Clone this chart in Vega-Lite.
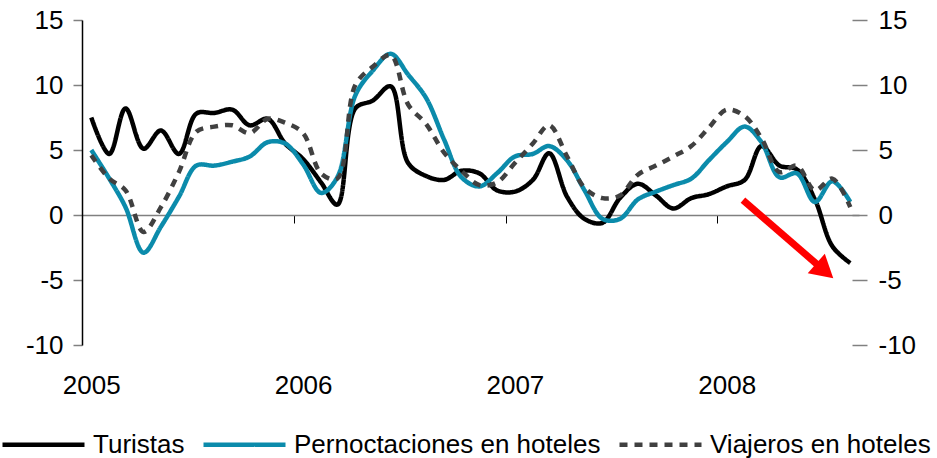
{
  "$schema": "https://vega.github.io/schema/vega-lite/v6.json",
  "width": 777,
  "height": 325,
  "autosize": {"type": "none"},
  "padding": {"left": 82, "top": 20, "right": 78, "bottom": 113},
  "background": "white",
  "config": {
    "view": {"stroke": null},
    "font": "Liberation Sans",
    "axis": {"labelFont": "Liberation Sans", "labelFontSize": 26, "labelColor": "#000000", "grid": false, "title": null}
  },
  "datasets": {
    "series": [
      {"date": "2005-01-01T00:00", "Turistas": 7.5, "Pernoctaciones en hoteles": 5.0, "Viajeros en hoteles": 4.6},
      {"date": "2005-02-01T00:00", "Turistas": 4.7, "Pernoctaciones en hoteles": 2.8, "Viajeros en hoteles": 2.8},
      {"date": "2005-03-01T00:00", "Turistas": 8.2, "Pernoctaciones en hoteles": 0.6, "Viajeros en hoteles": 1.9},
      {"date": "2005-04-01T00:00", "Turistas": 5.1, "Pernoctaciones en hoteles": -2.9, "Viajeros en hoteles": -1.3},
      {"date": "2005-05-01T00:00", "Turistas": 6.5, "Pernoctaciones en hoteles": -0.9, "Viajeros en hoteles": 0.6},
      {"date": "2005-06-01T00:00", "Turistas": 4.7, "Pernoctaciones en hoteles": 1.4, "Viajeros en hoteles": 3.3},
      {"date": "2005-07-01T00:00", "Turistas": 7.8, "Pernoctaciones en hoteles": 3.8, "Viajeros en hoteles": 6.4},
      {"date": "2005-08-01T00:00", "Turistas": 7.85, "Pernoctaciones en hoteles": 3.8, "Viajeros en hoteles": 6.8},
      {"date": "2005-09-01T00:00", "Turistas": 8.1, "Pernoctaciones en hoteles": 4.1, "Viajeros en hoteles": 6.9},
      {"date": "2005-10-01T00:00", "Turistas": 6.9, "Pernoctaciones en hoteles": 4.5, "Viajeros en hoteles": 6.3},
      {"date": "2005-11-01T00:00", "Turistas": 7.4, "Pernoctaciones en hoteles": 5.6, "Viajeros en hoteles": 7.4},
      {"date": "2005-12-01T00:00", "Turistas": 5.5, "Pernoctaciones en hoteles": 5.5, "Viajeros en hoteles": 7.1},
      {"date": "2006-01-01T00:00", "Turistas": 4.3, "Pernoctaciones en hoteles": 3.9, "Viajeros en hoteles": 6.3},
      {"date": "2006-02-01T00:00", "Turistas": 2.5, "Pernoctaciones en hoteles": 1.7, "Viajeros en hoteles": 3.2},
      {"date": "2006-03-01T00:00", "Turistas": 0.8, "Pernoctaciones en hoteles": 2.9, "Viajeros en hoteles": 2.8},
      {"date": "2006-04-01T00:00", "Turistas": 8.2, "Pernoctaciones en hoteles": 9.2, "Viajeros en hoteles": 10.0},
      {"date": "2006-05-01T00:00", "Turistas": 8.8, "Pernoctaciones en hoteles": 11.1, "Viajeros en hoteles": 11.4},
      {"date": "2006-06-01T00:00", "Turistas": 9.9, "Pernoctaciones en hoteles": 12.4, "Viajeros en hoteles": 12.3},
      {"date": "2006-07-01T00:00", "Turistas": 4.0, "Pernoctaciones en hoteles": 10.8, "Viajeros en hoteles": 8.5},
      {"date": "2006-08-01T00:00", "Turistas": 3.0, "Pernoctaciones en hoteles": 9.0, "Viajeros en hoteles": 7.0},
      {"date": "2006-09-01T00:00", "Turistas": 2.7, "Pernoctaciones en hoteles": 5.8, "Viajeros en hoteles": 4.8},
      {"date": "2006-10-01T00:00", "Turistas": 3.4, "Pernoctaciones en hoteles": 2.9, "Viajeros en hoteles": 3.4},
      {"date": "2006-11-01T00:00", "Turistas": 3.2, "Pernoctaciones en hoteles": 2.2, "Viajeros en hoteles": 2.3},
      {"date": "2006-12-01T00:00", "Turistas": 1.9, "Pernoctaciones en hoteles": 3.2, "Viajeros en hoteles": 2.5},
      {"date": "2007-01-01T00:00", "Turistas": 1.8, "Pernoctaciones en hoteles": 4.5, "Viajeros en hoteles": 4.0},
      {"date": "2007-02-01T00:00", "Turistas": 2.7, "Pernoctaciones en hoteles": 4.7, "Viajeros en hoteles": 5.5},
      {"date": "2007-03-01T00:00", "Turistas": 4.75, "Pernoctaciones en hoteles": 5.3, "Viajeros en hoteles": 6.9},
      {"date": "2007-04-01T00:00", "Turistas": 1.4, "Pernoctaciones en hoteles": 4.2, "Viajeros en hoteles": 4.5},
      {"date": "2007-05-01T00:00", "Turistas": -0.3, "Pernoctaciones en hoteles": 1.9, "Viajeros en hoteles": 2.1},
      {"date": "2007-06-01T00:00", "Turistas": -0.6, "Pernoctaciones en hoteles": -0.3, "Viajeros en hoteles": 1.3},
      {"date": "2007-07-01T00:00", "Turistas": 1.3, "Pernoctaciones en hoteles": -0.3, "Viajeros en hoteles": 1.5},
      {"date": "2007-08-01T00:00", "Turistas": 2.4, "Pernoctaciones en hoteles": 1.2, "Viajeros en hoteles": 3.1},
      {"date": "2007-09-01T00:00", "Turistas": 1.5, "Pernoctaciones en hoteles": 1.8, "Viajeros en hoteles": 3.8},
      {"date": "2007-10-01T00:00", "Turistas": 0.5, "Pernoctaciones en hoteles": 2.3, "Viajeros en hoteles": 4.5},
      {"date": "2007-11-01T00:00", "Turistas": 1.3, "Pernoctaciones en hoteles": 2.8, "Viajeros en hoteles": 5.3},
      {"date": "2007-12-01T00:00", "Turistas": 1.6, "Pernoctaciones en hoteles": 4.2, "Viajeros en hoteles": 6.7},
      {"date": "2008-01-01T00:00", "Turistas": 2.2, "Pernoctaciones en hoteles": 5.6, "Viajeros en hoteles": 8.1},
      {"date": "2008-02-01T00:00", "Turistas": 2.7, "Pernoctaciones en hoteles": 6.8, "Viajeros en hoteles": 7.6},
      {"date": "2008-03-01T00:00", "Turistas": 5.3, "Pernoctaciones en hoteles": 5.6, "Viajeros en hoteles": 5.9},
      {"date": "2008-04-01T00:00", "Turistas": 3.8, "Pernoctaciones en hoteles": 2.9, "Viajeros en hoteles": 3.3},
      {"date": "2008-05-01T00:00", "Turistas": 3.5, "Pernoctaciones en hoteles": 3.2, "Viajeros en hoteles": 3.8},
      {"date": "2008-06-01T00:00", "Turistas": 1.2, "Pernoctaciones en hoteles": 1.0, "Viajeros en hoteles": 1.9},
      {"date": "2008-07-01T00:00", "Turistas": -2.4, "Pernoctaciones en hoteles": 2.6, "Viajeros en hoteles": 2.8},
      {"date": "2008-08-01T00:00", "Turistas": -3.7, "Pernoctaciones en hoteles": 1.0, "Viajeros en hoteles": 0.6}
    ],
    "arrow": [
      {"start": "2008-01-29T00:00", "startValue": 1.15, "end": "2008-06-10T00:00", "endValue": -4.0, "head": "2008-06-18T00:00", "headValue": -4.3}
    ]
  },
  "resolve": {"axis": {"x": "independent", "y": "independent"}},
  "layer": [
    {
      "data": {"name": "series"},
      "transform": [
        {"fold": ["Turistas", "Pernoctaciones en hoteles", "Viajeros en hoteles"], "as": ["serie", "valor"]}
      ],
      "mark": {"type": "line", "interpolate": "catmull-rom", "strokeWidth": 4.5, "strokeCap": "butt"},
      "encoding": {
        "x": {
          "field": "date", "type": "temporal",
          "scale": {"domain": [{"year": 2004, "month": 12, "date": 16}, {"year": 2008, "month": 8, "date": 16}]},
          "axis": {
            "orient": "bottom",
            "values": [{"year": 2005, "month": 1, "date": 1}, {"year": 2006, "month": 1, "date": 1}, {"year": 2007, "month": 1, "date": 1}, {"year": 2008, "month": 1, "date": 1}],
            "format": "%Y", "domain": false, "ticks": false, "labelPadding": 27, "labelFlush": false
          }
        },
        "y": {
          "field": "valor", "type": "quantitative",
          "scale": {"domain": [-10, 15], "nice": false, "zero": false},
          "axis": {
            "orient": "left", "values": [-10, -5, 0, 5, 10, 15],
            "labelExpr": "'' + datum.value",
            "domainColor": "#000000", "domainWidth": 1.5,
            "tickColor": "#808080", "tickWidth": 1.5, "tickSize": 9, "labelPadding": 10
          }
        },
        "color": {
          "field": "serie", "type": "nominal",
          "scale": {"domain": ["Turistas", "Pernoctaciones en hoteles", "Viajeros en hoteles"], "range": ["#000000", "#0b8bab", "#404040"]},
          "legend": {
            "title": null, "orient": "none", "direction": "horizontal", "legendX": -82, "legendY": 381,
            "symbolType": "stroke", "symbolSize": 6724, "symbolStrokeWidth": 4.5,
            "labelFont": "Liberation Sans", "labelFontSize": 26, "labelColor": "#000000",
            "labelOffset": 6, "columnPadding": 9, "labelLimit": 0
          }
        },
        "strokeDash": {
          "field": "serie", "type": "nominal",
          "scale": {"domain": ["Turistas", "Pernoctaciones en hoteles", "Viajeros en hoteles"], "range": [[1, 0], [1, 0], [8, 7]]},
          "legend": {
            "title": null, "orient": "none", "direction": "horizontal", "legendX": -82, "legendY": 381,
            "symbolType": "stroke", "symbolSize": 6724, "symbolStrokeWidth": 4.5,
            "labelFont": "Liberation Sans", "labelFontSize": 26, "labelColor": "#000000",
            "labelOffset": 6, "columnPadding": 9, "labelLimit": 0
          }
        }
      }
    },
    {
      "data": {"name": "arrow"},
      "mark": {"type": "rule", "color": "#ff0000", "strokeWidth": 7},
      "encoding": {
        "x": {
          "field": "start", "type": "temporal",
          "scale": {"domain": [{"year": 2004, "month": 12, "date": 16}, {"year": 2008, "month": 8, "date": 16}]},
          "axis": {
            "orient": "bottom", "offset": -130,
            "values": [{"year": 2005, "month": 12, "date": 16}, {"year": 2006, "month": 12, "date": 16}, {"year": 2007, "month": 12, "date": 16}],
            "labels": false, "domain": true, "domainColor": "#808080", "domainWidth": 1.5,
            "ticks": true, "tickColor": "#000000", "tickWidth": 1, "tickSize": 8
          }
        },
        "x2": {"field": "end"},
        "y": {
          "field": "startValue", "type": "quantitative",
          "scale": {"domain": [-10, 15], "nice": false, "zero": false},
          "axis": {
            "orient": "right", "offset": -7, "values": [-10, -5, 0, 5, 10, 15],
            "labelExpr": "'' + datum.value",
            "domain": false, "tickColor": "#808080", "tickWidth": 1.5, "tickSize": 15, "labelPadding": 11
          }
        },
        "y2": {"field": "endValue"}
      }
    },
    {
      "data": {"name": "arrow"},
      "mark": {"type": "point", "shape": "triangle-up", "filled": true, "color": "#ff0000", "opacity": 1, "size": 676, "angle": 131},
      "encoding": {
        "x": {"field": "head", "type": "temporal", "scale": {"domain": [{"year": 2004, "month": 12, "date": 16}, {"year": 2008, "month": 8, "date": 16}]}, "axis": null},
        "y": {"field": "headValue", "type": "quantitative", "scale": {"domain": [-10, 15], "nice": false, "zero": false}, "axis": null}
      }
    },
    {
      "mark": {"type": "rule", "color": "#808080", "strokeWidth": 1.5},
      "encoding": {
        "x": {"datum": {"year": 2008, "month": 8, "date": 16}, "type": "temporal", "axis": null},
        "y": {"datum": -10, "type": "quantitative", "axis": null},
        "y2": {"datum": 15}
      }
    }
  ]
}
